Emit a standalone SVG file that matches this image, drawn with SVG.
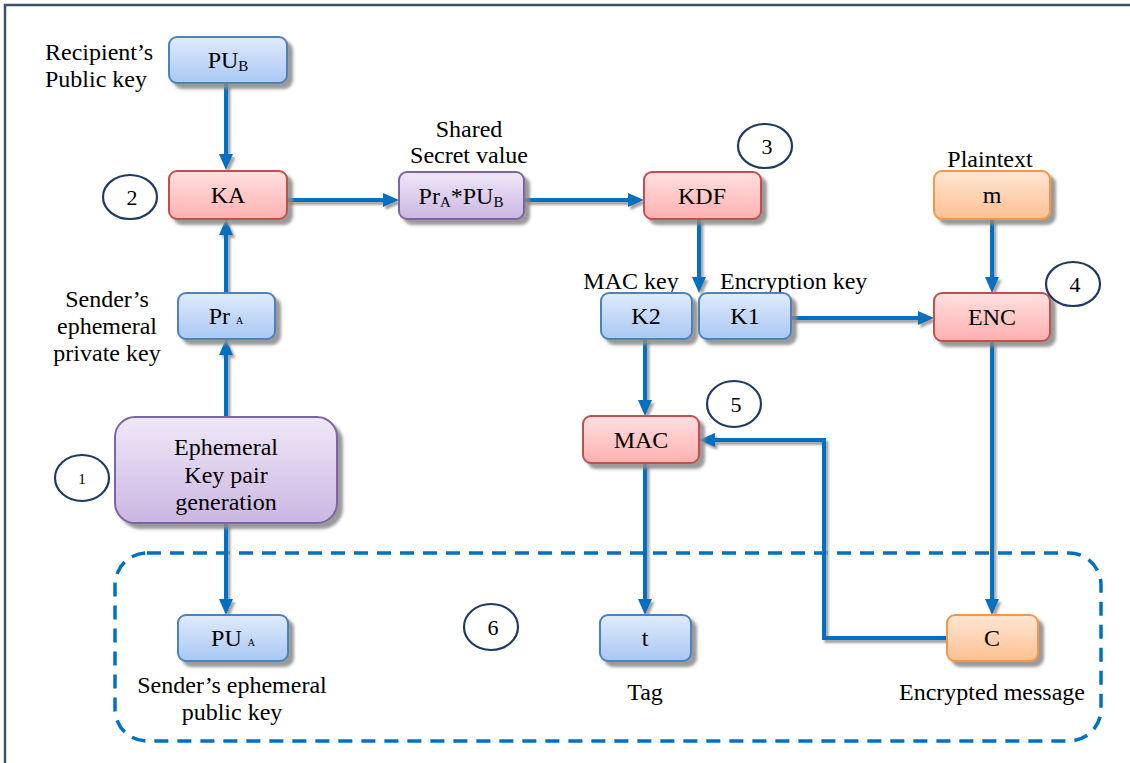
<svg xmlns="http://www.w3.org/2000/svg" width="1130" height="763" viewBox="0 0 1130 763">
<defs>
<linearGradient id="gBlue" x1="0" y1="0" x2="0" y2="1"><stop offset="0" stop-color="#e0ebfc"/><stop offset="1" stop-color="#a8c7f5"/></linearGradient>
<linearGradient id="gRed" x1="0" y1="0" x2="0" y2="1"><stop offset="0" stop-color="#ffe0e0"/><stop offset="1" stop-color="#ffb0b0"/></linearGradient>
<linearGradient id="gPurple" x1="0" y1="0" x2="0" y2="1"><stop offset="0" stop-color="#efe8f7"/><stop offset="1" stop-color="#cbb6e2"/></linearGradient>
<linearGradient id="gOrange" x1="0" y1="0" x2="0" y2="1"><stop offset="0" stop-color="#ffe6d4"/><stop offset="1" stop-color="#fdc091"/></linearGradient>
<filter id="sh" x="-10%" y="-10%" width="130%" height="140%"><feDropShadow dx="5" dy="5" stdDeviation="1.5" flood-color="#888" flood-opacity="0.85"/></filter>
<filter id="lsh" x="-5%" y="-5%" width="110%" height="110%"><feDropShadow dx="2.5" dy="3" stdDeviation="0.8" flood-color="#999" flood-opacity="0.9"/></filter>
<marker id="arr" viewBox="0 0 16 14" refX="8" refY="7" markerWidth="16" markerHeight="14" markerUnits="userSpaceOnUse" orient="auto"><path d="M0,0 L16,7 L0,14 z" fill="#0070C0"/></marker>
<style>
text{font-family:"Liberation Serif","Times New Roman",serif;font-size:24px;fill:#000}
.c{text-anchor:middle}
.blue{fill:url(#gBlue);stroke:#4f81bd;stroke-width:2}
.red{fill:url(#gRed);stroke:#c0504d;stroke-width:2}
.purple{fill:url(#gPurple);stroke:#8064a2;stroke-width:2}
.orange{fill:url(#gOrange);stroke:#f79646;stroke-width:2}
.num{fill:#fff;stroke:#1f3864;stroke-width:2.2}
.nt{font-size:22px;text-anchor:middle}
.ln{fill:none;stroke:#0070C0;stroke-width:4}
.sub{font-size:15px}
.tiny{font-size:10px}
</style>
</defs>
<rect width="1130" height="763" fill="#fff"/>
<rect x="5" y="5" width="1140" height="780" fill="none" stroke="#3e4f6b" stroke-width="2.5"/>

<g id="group6">
<rect x="115" y="553" width="986" height="188" rx="32" fill="none" stroke="#0070C0" stroke-width="3.5" stroke-dasharray="14 9"/>
</g>

<g id="connectors" filter="url(#lsh)">
<path class="ln" d="M226,83 V162" marker-end="url(#arr)"/>
<path class="ln" d="M287,200 H391" marker-end="url(#arr)"/>
<path class="ln" d="M524,200 H636" marker-end="url(#arr)"/>
<path class="ln" d="M699,219 V285" marker-end="url(#arr)"/>
<path class="ln" d="M992,219 V285" marker-end="url(#arr)"/>
<path class="ln" d="M791,318 H926" marker-end="url(#arr)"/>
<path class="ln" d="M645,339 V408" marker-end="url(#arr)"/>
<path class="ln" d="M992,341 V607" marker-end="url(#arr)"/>
<path class="ln" d="M946,638 H824 V440 H707" marker-end="url(#arr)"/>
<path class="ln" d="M645,463 V607" marker-end="url(#arr)"/>
<path class="ln" d="M226,418 V347" marker-end="url(#arr)"/>
<path class="ln" d="M226,293 V227" marker-end="url(#arr)"/>
<path class="ln" d="M226,523 V607" marker-end="url(#arr)"/>
</g>

<g id="keylabels">
<text class="c" x="631" y="289">MAC key</text>
<text x="720" y="289">Encryption key</text>
</g>

<g id="PUB"><rect class="blue" x="169" y="37" width="118" height="46" rx="8" filter="url(#sh)"/><text class="c" x="228" y="68">PU<tspan class="sub" dy="3">B</tspan></text></g>
<g id="KA"><rect class="red" x="169" y="171" width="118" height="48" rx="8" filter="url(#sh)"/><text class="c" x="228" y="203">KA</text></g>
<g id="shared"><rect class="purple" x="399" y="172" width="125" height="47" rx="8" filter="url(#sh)"/><text class="c" x="461" y="204">Pr<tspan class="sub" dy="3">A</tspan><tspan dy="-3">*PU</tspan><tspan class="sub" dy="3">B</tspan></text></g>
<g id="KDF"><rect class="red" x="644" y="172" width="117" height="47" rx="8" filter="url(#sh)"/><text class="c" x="702" y="204">KDF</text></g>
<g id="m"><rect class="orange" x="934" y="171" width="116" height="48" rx="8" filter="url(#sh)"/><text class="c" x="992" y="203">m</text></g>
<g id="K2"><rect class="blue" x="601" y="293" width="91" height="46" rx="8" filter="url(#sh)"/><text class="c" x="646" y="324">K2</text></g>
<g id="K1"><rect class="blue" x="699" y="293" width="92" height="46" rx="8" filter="url(#sh)"/><text class="c" x="745" y="324">K1</text></g>
<g id="ENC"><rect class="red" x="934" y="293" width="116" height="48" rx="8" filter="url(#sh)"/><text class="c" x="992" y="325">ENC</text></g>
<g id="PrA"><rect class="blue" x="178" y="293" width="97" height="46" rx="8" filter="url(#sh)"/><text class="c" x="226" y="324">Pr <tspan class="tiny">A</tspan></text></g>
<g id="EKG"><rect class="purple" x="115" y="417" width="222" height="106" rx="20" filter="url(#sh)"/><text class="c" x="226" y="455">Ephemeral</text><text class="c" x="226" y="483">Key pair</text><text class="c" x="226" y="510">generation</text></g>
<g id="MAC"><rect class="red" x="583" y="416" width="116" height="47" rx="8" filter="url(#sh)"/><text class="c" x="641" y="448">MAC</text></g>
<g id="PUA"><rect class="blue" x="178" y="615" width="110" height="46" rx="8" filter="url(#sh)"/><text class="c" x="233" y="646">PU <tspan class="tiny">A</tspan></text></g>
<g id="t"><rect class="blue" x="600" y="615" width="91" height="46" rx="8" filter="url(#sh)"/><text class="c" x="645" y="646">t</text></g>
<g id="C"><rect class="orange" x="947" y="615" width="91" height="46" rx="8" filter="url(#sh)"/><text class="c" x="992" y="646">C</text></g>

<g id="labels">
<text x="45" y="60">Recipient’s</text>
<text x="45" y="87">Public key</text>
<text class="c" x="469" y="137">Shared</text>
<text class="c" x="469" y="163">Secret value</text>
<text class="c" x="990" y="167">Plaintext</text>
<text class="c" x="107" y="307">Sender’s</text>
<text class="c" x="107" y="334">ephemeral</text>
<text class="c" x="107" y="361">private key</text>
<text class="c" x="232" y="693">Sender’s ephemeral</text>
<text class="c" x="232" y="720">public key</text>
<text class="c" x="645" y="700">Tag</text>
<text class="c" x="992" y="700">Encrypted message</text>
</g>

<g id="n1"><ellipse class="num" cx="82" cy="478" rx="27" ry="23"/><text class="c" x="82" y="484" style="font-size:15px">1</text></g>
<g id="n2"><ellipse class="num" cx="130" cy="197" rx="27" ry="22"/><text class="nt" x="132" y="205">2</text></g>
<g id="n3"><ellipse class="num" cx="765" cy="146" rx="27" ry="22"/><text class="nt" x="767" y="154">3</text></g>
<g id="n4"><ellipse class="num" cx="1073" cy="284" rx="27" ry="22"/><text class="nt" x="1075" y="292">4</text></g>
<g id="n5"><ellipse class="num" cx="734" cy="404" rx="27" ry="23"/><text class="nt" x="736" y="412">5</text></g>
<g id="n6"><ellipse class="num" cx="491" cy="627" rx="27" ry="23"/><text class="nt" x="493" y="635">6</text></g>
</svg>
